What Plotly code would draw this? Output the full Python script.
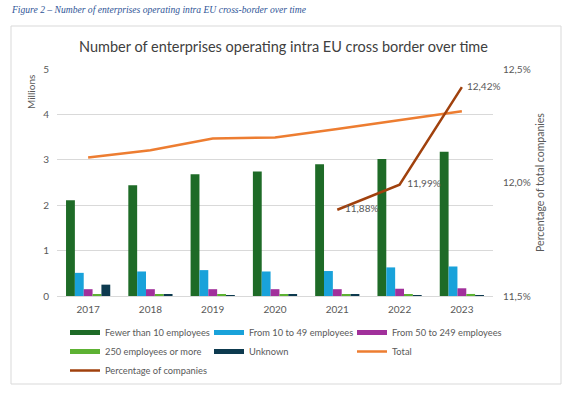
import plotly.graph_objects as go

years = ["2017", "2018", "2019", "2020", "2021", "2022", "2023"]
fewer_10 = [2.11, 2.44, 2.68, 2.74, 2.90, 3.02, 3.18]
from_10_49 = [0.51, 0.54, 0.57, 0.54, 0.55, 0.63, 0.65]
from_50_249 = [0.15, 0.15, 0.15, 0.15, 0.15, 0.16, 0.17]
over_250 = [0.035, 0.04, 0.04, 0.04, 0.04, 0.04, 0.045]
unknown = [0.25, 0.03, 0.02, 0.03, 0.03, 0.02, 0.02]
total = [3.05, 3.21, 3.47, 3.49, 3.68, 3.88, 4.07]
pct_companies = [None, None, None, None, 0.1188, 0.1199, 0.1242]
pct_labels = ["", "", "", "", "   11,88%", "   11,99%", "  12,42%"]

FONT = "Lato"
GREY = "#595959"
FS = 10

fig = go.Figure()
bar_series = [
    ("Fewer than 10 employees", fewer_10, "#1e6b27", "legend"),
    ("From 10 to 49 employees", from_10_49, "#19a2da", "legend2"),
    ("From 50 to 249 employees", from_50_249, "#a1309b", "legend3"),
    ("250 employees or more", over_250, "#5db233", "legend"),
    ("Unknown", unknown, "#0d3a4f", "legend2"),
]
for name, vals, col, lg in bar_series:
    fig.add_trace(go.Bar(x=years, y=vals, name=name, marker_color=col,
                         marker_line_width=0, legendgroup=name, showlegend=False))

fig.add_trace(go.Scatter(x=years, y=total, name="Total", mode="lines",
                         line=dict(color="#ed7d31", width=2.5), legend="legend3"))
fig.add_trace(go.Scatter(x=years, y=pct_companies, name="Percentage of companies",
                         mode="lines+text", text=pct_labels,
                         textposition="middle right",
                         textfont=dict(family=FONT, size=FS, color=GREY),
                         line=dict(color="#a0410d", width=2.5), yaxis="y2",
                         cliponaxis=False, legend="legend"))

# legend-only entries drawn as wide swatches, like the reference's bar keys
for name, vals, col, lg in bar_series:
    fig.add_trace(go.Scatter(x=[None], y=[None], name=name, mode="lines",
                             line=dict(color=col, width=5), legendgroup=name,
                             legend=lg, hoverinfo="skip"))

L, R, T, B = 57, 74, 69, 97
W, H = 567, 393
pw, ph = W - L - R, H - T - B

def px_x(x):
    return (x - L) / pw

def px_y(y):
    return (H - B - y) / ph

legend_order = {
    "legend": ["Fewer than 10 employees", "250 employees or more", "Percentage of companies"],
    "legend2": ["From 10 to 49 employees", "Unknown"],
    "legend3": ["From 50 to 249 employees", "Total"],
}
for tr in fig.data:
    if tr.showlegend is not False and tr.legend in legend_order:
        tr.legendrank = legend_order[tr.legend].index(tr.name) + 1

def leg(xpx):
    return dict(orientation="v", x=px_x(xpx), xanchor="left", y=px_y(318), yanchor="top",
                traceorder="normal", font=dict(family=FONT, size=9.3, color=GREY),
                itemwidth=30, tracegroupgap=0, bgcolor="rgba(0,0,0,0)")

fig.update_layout(
    width=W, height=H,
    margin=dict(l=L, r=R, t=T, b=B, autoexpand=False),
    paper_bgcolor="white", plot_bgcolor="white",
    separators=",.",
    font=dict(family=FONT, size=FS, color=GREY),
    barmode="group", bargap=0.29, bargroupgap=0,
    showlegend=True,
    legend=leg(65), legend2=leg(209), legend3=leg(352),
    xaxis=dict(showgrid=False, showline=True, linecolor="#d9d9d9", linewidth=1,
               ticks="", ticklabelstandoff=4, tickfont=dict(size=FS, color=GREY)),
    yaxis=dict(range=[0, 5], dtick=1, showgrid=True, gridcolor="#d9d9d9",
               gridwidth=1, zeroline=False, ticks="", ticklabelstandoff=7,
               tickfont=dict(size=FS, color=GREY)),
    yaxis2=dict(overlaying="y", side="right", range=[0.115, 0.125], dtick=0.005,
                tickformat=".1%", showgrid=False, zeroline=False, ticks="",
                ticklabelstandoff=9, tickfont=dict(size=FS, color=GREY),
                title=dict(text="Percentage of total companies", standoff=6,
                           font=dict(size=10.5, color=GREY))),
    shapes=[dict(type="rect", xref="paper", yref="paper",
                 x0=px_x(11), x1=px_x(561), y0=px_y(384), y1=px_y(26),
                 line=dict(color="#d9d9d9", width=1), layer="below")],
    annotations=[
        dict(text="<i>Figure 2 – Number of enterprises operating intra EU cross-border over time</i>",
             xref="paper", yref="paper", x=px_x(9), y=px_y(10), xanchor="left", yanchor="middle",
             showarrow=False, font=dict(family="Liberation Serif", size=9.6, color="#2f5597")),
        dict(text="Number of enterprises operating intra EU cross border over time",
             xref="paper", yref="paper", x=px_x(283), y=px_y(47), xanchor="center", yanchor="middle",
             showarrow=False, font=dict(family=FONT, size=14.5, color="#404040")),
        dict(text="Millions", xref="paper", yref="paper", x=px_x(31), y=px_y(73),
             xanchor="center", yanchor="top", textangle=-90, showarrow=False,
             font=dict(family=FONT, size=FS, color=GREY)),
    ],
)

fig.write_html("out.html", config={"displayModeBar": False},
               post_script="document.body.style.margin='0px';")
